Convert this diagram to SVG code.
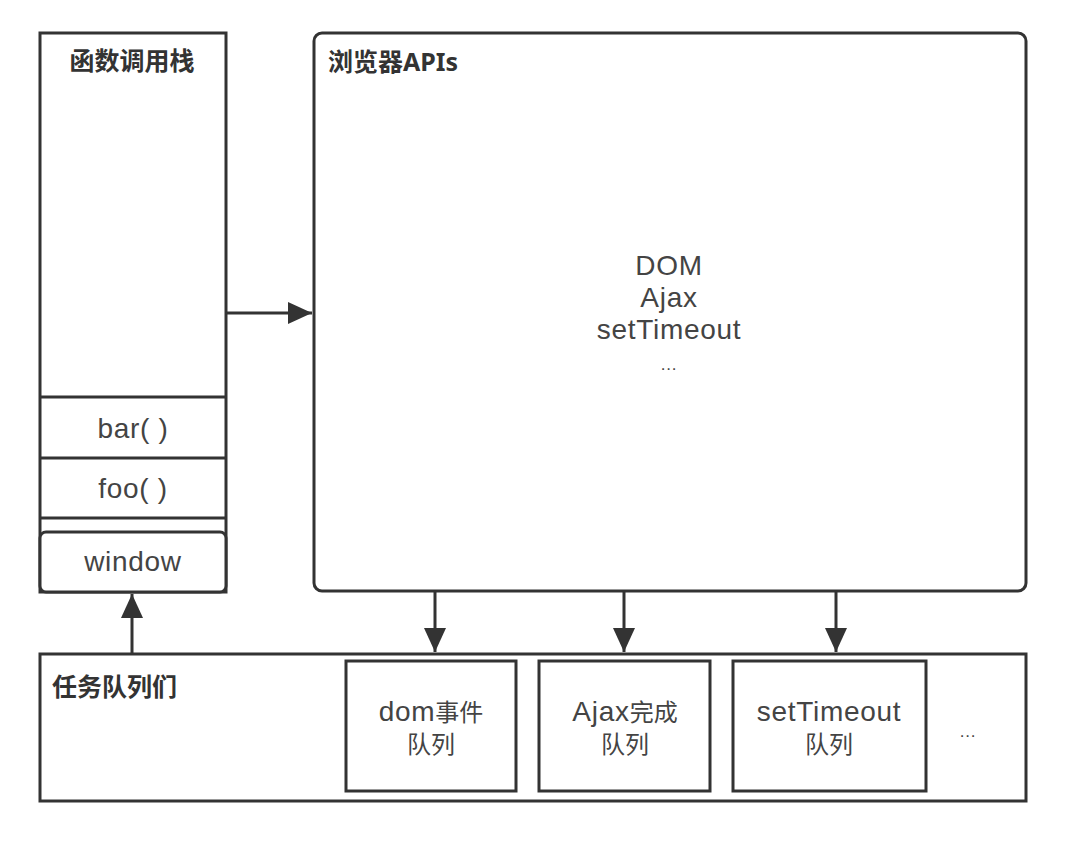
<svg xmlns="http://www.w3.org/2000/svg" width="1086" height="862" viewBox="0 0 1086 862">
<style>
.box{fill:#fff;stroke:#333;stroke-width:3}
.line{fill:none;stroke:#333;stroke-width:3}
.t{font-family:"Liberation Sans","Noto Sans CJK SC",sans-serif;font-size:28px;letter-spacing:0.7px;fill:#444;text-anchor:middle}
.c{font-family:"Noto Sans CJK SC",sans-serif;font-size:24px;letter-spacing:0}
.h{font-family:"Noto Sans","Noto Sans CJK SC",sans-serif;font-size:25px;font-weight:bold;fill:#333}
.d{font-size:17px}
</style>
<defs>
<marker id="ah" viewBox="0 0 24 22" refX="24" refY="11" markerWidth="24" markerHeight="22" markerUnits="userSpaceOnUse" orient="auto">
<path d="M0,0 L24,11 L0,22 z" fill="#333"/>
</marker>
</defs>
<rect width="1086" height="862" fill="#fff"/>
<g id="callstack">
<rect class="box" x="40" y="33" width="186" height="559"/>
<text class="h" x="132" y="70" text-anchor="middle">函数调用栈</text>
<line class="line" x1="40" y1="397" x2="226" y2="397"/>
<line class="line" x1="40" y1="458" x2="226" y2="458"/>
<line class="line" x1="40" y1="518" x2="226" y2="518"/>
<text class="t" x="133" y="438">bar( )</text>
<text class="t" x="133" y="498">foo( )</text>
</g>
<g id="window">
<rect class="box" x="40" y="532" width="186" height="60" rx="6"/>
<text class="t" x="133" y="571">window</text>
</g>
<g id="browserapis">
<rect class="box" x="314" y="33" width="712" height="558" rx="8"/>
<text class="h" x="328" y="71">浏览器APIs</text>
<text class="t" x="669" y="275">DOM</text>
<text class="t" x="669" y="307">Ajax</text>
<text class="t" x="669" y="339">setTimeout</text>
<text class="t d" x="669" y="370">...</text>
</g>
<g id="taskqueues">
<rect class="box" x="40" y="654" width="986" height="147"/>
<text class="h" x="52" y="696">任务队列们</text>
<text class="t d" x="968" y="737">...</text>
</g>
<g id="domqueue">
<rect class="box" x="346" y="661" width="170" height="130"/>
<text class="t" x="431" y="721">dom<tspan class="c">事件</tspan></text>
<text class="t c" x="431" y="753">队列</text>
</g>
<g id="ajaxqueue">
<rect class="box" x="539" y="661" width="171" height="130"/>
<text class="t" x="625" y="721">Ajax<tspan class="c">完成</tspan></text>
<text class="t c" x="625" y="753">队列</text>
</g>
<g id="timeoutqueue">
<rect class="box" x="733" y="661" width="193" height="130"/>
<text class="t" x="829" y="721">setTimeout</text>
<text class="t c" x="829" y="753">队列</text>
</g>
<g id="connectors">
<line class="line" x1="226" y1="313" x2="312" y2="313" marker-end="url(#ah)"/>
<line class="line" x1="435" y1="592" x2="435" y2="652" marker-end="url(#ah)"/>
<line class="line" x1="624" y1="592" x2="624" y2="652" marker-end="url(#ah)"/>
<line class="line" x1="836" y1="592" x2="836" y2="652" marker-end="url(#ah)"/>
<line class="line" x1="132" y1="654" x2="132" y2="594" marker-end="url(#ah)"/>
</g>
</svg>
